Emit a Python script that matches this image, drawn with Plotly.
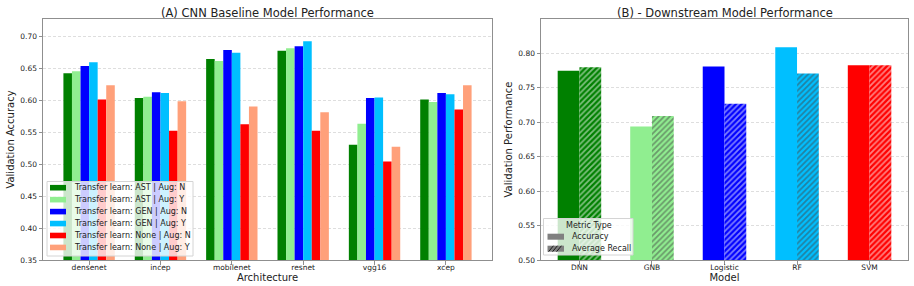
import plotly.graph_objects as go

# ---------------- data ----------------
architectures = ["densenet", "incep", "mobilenet", "resnet", "vgg16", "xcep"]
series_names = [
    "Transfer learn: AST | Aug: N",
    "Transfer learn: AST | Aug: Y",
    "Transfer learn: GEN | Aug: N",
    "Transfer learn: GEN | Aug: Y",
    "Transfer learn: None | Aug: N",
    "Transfer learn: None | Aug: Y",
]
ast_n = [0.642, 0.603, 0.664, 0.677, 0.530, 0.601]
ast_y = [0.645, 0.605, 0.661, 0.681, 0.563, 0.597]
gen_n = [0.653, 0.612, 0.678, 0.684, 0.603, 0.611]
gen_y = [0.659, 0.611, 0.674, 0.692, 0.604, 0.609]
none_n = [0.601, 0.552, 0.562, 0.552, 0.504, 0.585]
none_y = [0.623, 0.598, 0.590, 0.581, 0.527, 0.623]
series_colors = ["green", "lightgreen", "blue", "deepskyblue", "red", "lightsalmon"]

models = ["DNN", "GNB", "Logistic", "RF", "SVM"]
accuracy = [0.775, 0.694, 0.781, 0.809, 0.783]
avg_recall = [0.780, 0.709, 0.727, 0.771, 0.783]
model_colors = ["green", "lightgreen", "blue", "deepskyblue", "red"]
metric_names = ["Accuracy", "Average Recall"]

left_ticks = [0.35, 0.40, 0.45, 0.50, 0.55, 0.60, 0.65, 0.70]
right_ticks = [0.50, 0.55, 0.60, 0.65, 0.70, 0.75, 0.80]

# ---------------- figure ----------------
FONT = "DejaVu Sans"
TXT = "#222222"
W, H = 914, 286
ML, MR, MT, MB = 43, 6, 19, 26
pw = W - ML - MR
ph = H - MT - MB


def px_x(x):
    return (x - ML) / pw


def px_y(y):
    return (H - MB - y) / ph


fig = go.Figure()

left_series = [ast_n, ast_y, gen_n, gen_y, none_n, none_y]
bw = 0.12
for i, (name, vals, col) in enumerate(zip(series_names, left_series, series_colors)):
    fig.add_trace(go.Bar(
        x=architectures, y=vals, name=name, showlegend=False,
        marker=dict(color=col, line=dict(width=0)),
        width=bw, offset=-0.36 + bw * i,
        xaxis="x", yaxis="y",
    ))

HATCH = dict(shape="/", fgcolor="black", size=4, solidity=0.45, fillmode="overlay")

fig.add_trace(go.Bar(
    x=models, y=accuracy, name=metric_names[0], showlegend=False,
    marker=dict(color=model_colors, line=dict(width=0)),
    width=0.3, offset=-0.3, xaxis="x2", yaxis="y2",
))
fig.add_trace(go.Bar(
    x=models, y=avg_recall, name=metric_names[1], showlegend=False,
    marker=dict(color=model_colors, line=dict(width=0), pattern=HATCH),
    width=0.3, offset=0.0, xaxis="x2", yaxis="y2",
))

# ---------------- custom legends (layout decoration) ----------------
shapes = []
annotations = []
LEG_BG = "rgba(255,255,255,0.8)"
LEG_BORDER = "#d4d4d4"

# legend A
shapes.append(dict(type="rect", xref="paper", yref="paper", layer="above",
                   x0=px_x(47), x1=px_x(193), y0=px_y(256), y1=px_y(181.5),
                   fillcolor=LEG_BG, line=dict(color=LEG_BORDER, width=1)))
row0, dy = 187.7, 11.95
for i, (name, col) in enumerate(zip(series_names, series_colors)):
    yc = row0 + dy * i
    shapes.append(dict(type="rect", xref="paper", yref="paper", layer="above",
                       x0=px_x(50), x1=px_x(66), y0=px_y(yc + 2.8), y1=px_y(yc - 2.8),
                       fillcolor=col, line=dict(width=0)))
    annotations.append(dict(text=name, x=px_x(71.5), y=px_y(yc), xref="paper", yref="paper",
                            xanchor="left", yanchor="middle", showarrow=False,
                            font=dict(size=8, color=TXT)))

# legend B
shapes.append(dict(type="rect", xref="paper", yref="paper", layer="above",
                   x0=px_x(543.5), x1=px_x(633), y0=px_y(255), y1=px_y(218.5),
                   fillcolor=LEG_BG, line=dict(color=LEG_BORDER, width=1)))
annotations.append(dict(text="Metric Type", x=px_x(589), y=px_y(225), xref="paper", yref="paper",
                        xanchor="center", yanchor="middle", showarrow=False,
                        font=dict(size=8, color=TXT)))
for i, name in enumerate(metric_names):
    yc = 236.7 + 12.0 * i
    x0, x1 = 547.5, 564
    shapes.append(dict(type="rect", xref="paper", yref="paper", layer="above",
                       x0=px_x(x0), x1=px_x(x1), y0=px_y(yc + 3), y1=px_y(yc - 3),
                       fillcolor="gray", line=dict(width=0)))
    if i == 1:
        xs = x0 + 1
        while xs + 5 <= x1:
            shapes.append(dict(type="line", xref="paper", yref="paper", layer="above",
                               x0=px_x(xs), x1=px_x(xs + 5), y0=px_y(yc + 3), y1=px_y(yc - 3),
                               line=dict(color="black", width=0.8)))
            xs += 4
    annotations.append(dict(text=name, x=px_x(569.5), y=px_y(yc), xref="paper", yref="paper",
                            xanchor="left", yanchor="middle", showarrow=False,
                            font=dict(size=8, color=TXT)))

axis_common = dict(
    showline=True, linecolor="#8f8f8f", linewidth=1, mirror=True,
    ticks="outside", ticklen=3.5, tickcolor="#8f8f8f",
    tickfont=dict(size=7.5, color=TXT, family=FONT),
    zeroline=False,
)
grid_common = dict(showgrid=True, gridcolor="#dedede", griddash="3px,2px", gridwidth=0.8)
xdom1 = [0, px_x(492)]
xdom2 = [px_x(541), 1.0]

annotations += [
    dict(text="(A) CNN Baseline Model Performance", x=(xdom1[0] + xdom1[1]) / 2,
         y=1, xref="paper", yref="paper", xanchor="center", yanchor="middle",
         yshift=6.5, showarrow=False, font=dict(size=11.5, color=TXT)),
    dict(text="(B) - Downstream Model Performance", x=(xdom2[0] + xdom2[1]) / 2,
         y=1, xref="paper", yref="paper", xanchor="center", yanchor="middle",
         yshift=6.5, showarrow=False, font=dict(size=11.5, color=TXT)),
]

fig.update_layout(
    width=W, height=H,
    margin=dict(l=ML, r=MR, t=MT, b=MB),
    paper_bgcolor="white", plot_bgcolor="white",
    font=dict(family=FONT, color=TXT),
    barmode="overlay",
    showlegend=False,
    xaxis=dict(domain=xdom1, anchor="y", range=[-0.646, 5.646], showgrid=False,
               ticklabelstandoff=-4,
               title=dict(text="Architecture", font=dict(size=10), standoff=0),
               **axis_common),
    yaxis=dict(domain=[0, 1], anchor="x", range=[0.35, 0.7266],
               tickvals=left_ticks, tickformat=".2f",
               title=dict(text="Validation Accuracy", font=dict(size=10), standoff=3),
               **grid_common, **axis_common),
    xaxis2=dict(domain=xdom2, anchor="y2", range=[-0.53, 4.53], showgrid=False,
                ticklabelstandoff=-4,
                title=dict(text="Model", font=dict(size=10), standoff=0),
                **axis_common),
    yaxis2=dict(domain=[0, 1], anchor="x2", range=[0.5, 0.85],
                tickvals=right_ticks, tickformat=".2f",
                title=dict(text="Validation Performance", font=dict(size=10), standoff=3),
                **grid_common, **axis_common),
    shapes=shapes,
    annotations=annotations,
)

fig.write_html(
    "out.html",
    config={"displayModeBar": False},
    post_script="document.body.style.margin='0px';document.body.style.overflow='hidden';",
)
